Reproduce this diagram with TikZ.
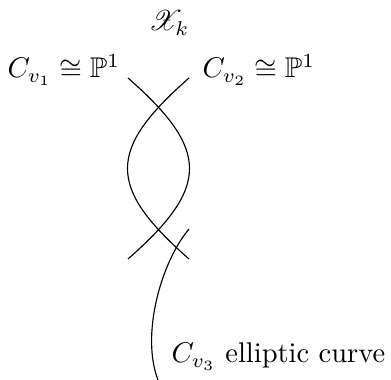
\documentclass[tikz,border=0pt]{standalone}
\usepackage{amsmath,amssymb,mathrsfs}
\usetikzlibrary{positioning}

\begin{document}
\begin{tikzpicture}[
    x=0.351pt, y=-0.351pt,
    lbl/.style={inner sep=0pt, anchor=base west},
    branch/.style={line width=0.4pt}
]
    \useasboundingbox (0,0) rectangle (391,380);

    \node[lbl] (fiber) at (148,31) {$\mathscr{X}_k$};
    \node[lbl] (cone) at (7,78) {$C_{v_1}\cong\mathbb{P}^1$};
    \node[lbl] (ctwo) at (202,78) {$C_{v_2}\cong\mathbb{P}^1$};
    \node[lbl] (cthree) at (171,363) {$C_{v_3}$ elliptic curve};

    \coordinate (a1) at (128,78);
    \coordinate (a2) at (128,259);
    \coordinate (b1) at (189,78);
    \coordinate (b2) at (189,259);
    \coordinate (e1) at (189,229);
    \coordinate (e2) at (158,380);

    \draw[branch] (a1) .. controls (210,150) and (210,187) .. (a2);
    \draw[branch] (b1) .. controls (107,150) and (107,187) .. (b2);
    \draw[branch] (e1) .. controls (160,264) and (141,336) .. (e2);
\end{tikzpicture}
\end{document}
